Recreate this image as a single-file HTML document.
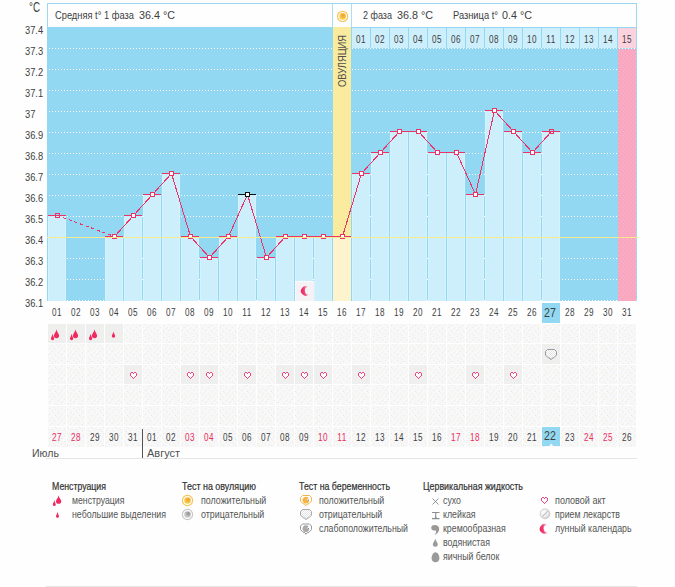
<!DOCTYPE html>
<html><head><meta charset="utf-8"><title>chart</title>
<style>
html,body{margin:0;padding:0;background:#fdfefd;}
body{width:675px;height:587px;position:relative;overflow:hidden;font-family:"Liberation Sans",sans-serif;}
svg.base{position:absolute;left:0;top:0;}
.t{position:absolute;white-space:nowrap;line-height:1;}
.c{width:40px;text-align:center;}
.r{width:40px;text-align:right;}
</style></head><body>
<svg class="base" width="675" height="587" viewBox="0 0 675 587">
<defs><pattern id="pPink" width="4" height="4" patternUnits="userSpaceOnUse"><rect width="4" height="4" fill="#f9a7c0"/><rect x="1" y="1" width="1" height="1" fill="#fab5c9"/><rect x="3" y="3" width="1" height="1" fill="#fab5c9"/></pattern><pattern id="pYel" width="4" height="4" patternUnits="userSpaceOnUse"><rect width="4" height="4" fill="#f9eb9b"/><rect x="1" y="1" width="1" height="1" fill="#faefae"/><rect x="3" y="3" width="1" height="1" fill="#faefae"/></pattern><pattern id="pCell" width="12" height="12" patternUnits="userSpaceOnUse"><rect width="12" height="12" fill="#f8f8f9"/><rect x="1" y="0" width="1" height="1" fill="#e8e8ec"/><rect x="7" y="1" width="1" height="1" fill="#e8e8ec"/><rect x="4" y="3" width="1" height="1" fill="#e8e8ec"/><rect x="10" y="4" width="1" height="1" fill="#e8e8ec"/><rect x="1" y="6" width="1" height="1" fill="#e8e8ec"/><rect x="7" y="7" width="1" height="1" fill="#e8e8ec"/><rect x="4" y="9" width="1" height="1" fill="#e8e8ec"/><rect x="10" y="10" width="1" height="1" fill="#e8e8ec"/><rect x="5" y="1" width="1" height="1" fill="#f6f1d6"/><rect x="11" y="3" width="1" height="1" fill="#f6f1d6"/><rect x="2" y="5" width="1" height="1" fill="#f6f1d6"/><rect x="8" y="8" width="1" height="1" fill="#f6f1d6"/><rect x="5" y="11" width="1" height="1" fill="#f6f1d6"/><rect x="3" y="2" width="1" height="1" fill="#ebf4f8"/><rect x="9" y="6" width="1" height="1" fill="#ebf4f8"/><rect x="0" y="9" width="1" height="1" fill="#ebf4f8"/><rect x="6" y="11" width="1" height="1" fill="#ebf4f8"/><rect x="6" y="5" width="1" height="1" fill="#f6edf0"/><rect x="11" y="8" width="1" height="1" fill="#f6edf0"/><rect x="9" y="1" width="1" height="1" fill="#f6edf0"/><rect x="2" y="10" width="1" height="1" fill="#f6edf0"/></pattern><pattern id="pCellF" width="6" height="6" patternUnits="userSpaceOnUse"><rect width="6" height="6" fill="#efeff0"/><rect x="1" y="2" width="1" height="1" fill="#f4eccc"/><rect x="4" y="5" width="1" height="1" fill="#e8f0f4"/></pattern><radialGradient id="gSun" cx="0.62" cy="0.35" r="0.75"><stop offset="0" stop-color="#ee9f2c"/><stop offset="0.55" stop-color="#f6bf44"/><stop offset="1" stop-color="#fcd957"/></radialGradient><radialGradient id="gGray" cx="0.62" cy="0.35" r="0.75"><stop offset="0" stop-color="#8f8f8f"/><stop offset="0.55" stop-color="#bdbdbd"/><stop offset="1" stop-color="#d6d6d6"/></radialGradient><linearGradient id="gMoon" x1="0" y1="0.6" x2="1" y2="0.4"><stop offset="0" stop-color="#ee1d58"/><stop offset="0.45" stop-color="#f2467a"/><stop offset="1" stop-color="#fde0e8"/></linearGradient><radialGradient id="gPill" cx="0.35" cy="0.35" r="0.8"><stop offset="0" stop-color="#ffffff"/><stop offset="0.6" stop-color="#e9e9e9"/><stop offset="1" stop-color="#bdbdbd"/></radialGradient><pattern id="pCheck" width="2" height="2" patternUnits="userSpaceOnUse"><rect width="2" height="2" fill="#ffffff"/><rect width="1" height="1" fill="#e4e4e4"/><rect x="1" y="1" width="1" height="1" fill="#e4e4e4"/></pattern><radialGradient id="gPreg" cx="0.4" cy="0.4" r="0.7"><stop offset="0" stop-color="#f5b547"/><stop offset="1" stop-color="#f3c76a"/></radialGradient><g id="heart"><path d="M1 1h1v1h-1zM2 1h1v1h-1zM4 1h1v1h-1zM5 1h1v1h-1zM1 2h1v1h-1zM2 2h1v1h-1zM3 2h1v1h-1zM4 2h1v1h-1zM5 2h1v1h-1zM1 3h1v1h-1zM2 3h1v1h-1zM3 3h1v1h-1zM4 3h1v1h-1zM5 3h1v1h-1zM2 4h1v1h-1zM3 4h1v1h-1zM4 4h1v1h-1zM3 5h1v1h-1z" fill="#ffffff"/><path d="M1 0h1v1h-1zM2 0h1v1h-1zM4 0h1v1h-1zM5 0h1v1h-1zM0 1h1v1h-1zM3 1h1v1h-1zM6 1h1v1h-1zM0 2h1v1h-1zM6 2h1v1h-1zM0 3h1v1h-1zM6 3h1v1h-1zM1 4h1v1h-1zM5 4h1v1h-1zM2 5h1v1h-1zM4 5h1v1h-1zM3 6h1v1h-1z" fill="#f0457d"/></g></defs>
<rect x="47" y="3" width="590" height="24" fill="#fdfefd" />
<rect x="47" y="3" width="590" height="1" fill="#9cd9f1" />
<rect x="47" y="3" width="1" height="24" fill="#9cd9f1" />
<rect x="636" y="3" width="1" height="298" fill="#9cd9f1" />
<rect x="332" y="4" width="1" height="23" fill="#a9def3" />
<rect x="351" y="4" width="1" height="23" fill="#a9def3" />
<rect x="47" y="27" width="589" height="274" fill="#93d8f2" />
<rect x="352" y="28" width="18" height="20" fill="#cdeefb" />
<rect x="371" y="28" width="18" height="20" fill="#cdeefb" />
<rect x="390" y="28" width="18" height="20" fill="#cdeefb" />
<rect x="409" y="28" width="18" height="20" fill="#cdeefb" />
<rect x="428" y="28" width="18" height="20" fill="#cdeefb" />
<rect x="447" y="28" width="18" height="20" fill="#cdeefb" />
<rect x="466" y="28" width="18" height="20" fill="#cdeefb" />
<rect x="485" y="28" width="18" height="20" fill="#cdeefb" />
<rect x="504" y="28" width="18" height="20" fill="#cdeefb" />
<rect x="523" y="28" width="18" height="20" fill="#cdeefb" />
<rect x="542" y="28" width="18" height="20" fill="#cdeefb" />
<rect x="561" y="28" width="18" height="20" fill="#cdeefb" />
<rect x="580" y="28" width="18" height="20" fill="#cdeefb" />
<rect x="599" y="28" width="18" height="20" fill="#cdeefb" />
<rect x="618" y="28" width="18" height="20" fill="#fcd2de" />
<rect x="618" y="49" width="18" height="252" fill="url(#pPink)" />
<rect x="333" y="27" width="18" height="274" fill="url(#pYel)" />
<line x1="49" y1="48.5" x2="636" y2="48.5" stroke="#ffffff" stroke-width="1" stroke-dasharray="1 2" shape-rendering="crispEdges"/>
<line x1="49" y1="69.5" x2="636" y2="69.5" stroke="#ffffff" stroke-width="1" stroke-dasharray="1 2" shape-rendering="crispEdges"/>
<line x1="49" y1="90.5" x2="636" y2="90.5" stroke="#ffffff" stroke-width="1" stroke-dasharray="1 2" shape-rendering="crispEdges"/>
<line x1="49" y1="111.5" x2="636" y2="111.5" stroke="#ffffff" stroke-width="1" stroke-dasharray="1 2" shape-rendering="crispEdges"/>
<line x1="49" y1="132.5" x2="636" y2="132.5" stroke="#ffffff" stroke-width="1" stroke-dasharray="1 2" shape-rendering="crispEdges"/>
<line x1="49" y1="153.5" x2="636" y2="153.5" stroke="#ffffff" stroke-width="1" stroke-dasharray="1 2" shape-rendering="crispEdges"/>
<line x1="49" y1="174.5" x2="636" y2="174.5" stroke="#ffffff" stroke-width="1" stroke-dasharray="1 2" shape-rendering="crispEdges"/>
<line x1="49" y1="195.5" x2="636" y2="195.5" stroke="#ffffff" stroke-width="1" stroke-dasharray="1 2" shape-rendering="crispEdges"/>
<line x1="49" y1="216.5" x2="636" y2="216.5" stroke="#ffffff" stroke-width="1" stroke-dasharray="1 2" shape-rendering="crispEdges"/>
<line x1="49" y1="237.5" x2="636" y2="237.5" stroke="#ffffff" stroke-width="1" stroke-dasharray="1 2" shape-rendering="crispEdges"/>
<line x1="49" y1="258.5" x2="636" y2="258.5" stroke="#ffffff" stroke-width="1" stroke-dasharray="1 2" shape-rendering="crispEdges"/>
<line x1="49" y1="279.5" x2="636" y2="279.5" stroke="#ffffff" stroke-width="1" stroke-dasharray="1 2" shape-rendering="crispEdges"/>
<line x1="49" y1="300.5" x2="636" y2="300.5" stroke="#ffffff" stroke-width="1" stroke-dasharray="1 2" shape-rendering="crispEdges"/>
<rect x="333" y="27" width="18" height="274" fill="url(#pYel)" />
<rect x="618" y="49" width="18" height="252" fill="url(#pPink)" />
<rect x="48" y="215" width="18" height="86" fill="#cdeefb" />
<rect x="48" y="216" width="1" height="85" fill="#d5f2fd" />
<rect x="65" y="216" width="1" height="85" fill="#d5f2fd" />
<rect x="105" y="236" width="18" height="65" fill="#cdeefb" />
<rect x="105" y="237" width="1" height="64" fill="#d5f2fd" />
<rect x="122" y="237" width="1" height="64" fill="#d5f2fd" />
<rect x="124" y="215" width="18" height="86" fill="#cdeefb" />
<rect x="124" y="216" width="1" height="85" fill="#d5f2fd" />
<rect x="141" y="216" width="1" height="85" fill="#d5f2fd" />
<rect x="143" y="194" width="18" height="107" fill="#cdeefb" />
<rect x="143" y="195" width="1" height="106" fill="#d5f2fd" />
<rect x="160" y="195" width="1" height="106" fill="#d5f2fd" />
<rect x="162" y="173" width="18" height="128" fill="#cdeefb" />
<rect x="162" y="174" width="1" height="127" fill="#d5f2fd" />
<rect x="179" y="174" width="1" height="127" fill="#d5f2fd" />
<rect x="181" y="236" width="18" height="65" fill="#cdeefb" />
<rect x="181" y="237" width="1" height="64" fill="#d5f2fd" />
<rect x="198" y="237" width="1" height="64" fill="#d5f2fd" />
<rect x="200" y="257" width="18" height="44" fill="#cdeefb" />
<rect x="200" y="258" width="1" height="43" fill="#d5f2fd" />
<rect x="217" y="258" width="1" height="43" fill="#d5f2fd" />
<rect x="219" y="236" width="18" height="65" fill="#cdeefb" />
<rect x="219" y="237" width="1" height="64" fill="#d5f2fd" />
<rect x="236" y="237" width="1" height="64" fill="#d5f2fd" />
<rect x="238" y="194" width="18" height="107" fill="#cdeefb" />
<rect x="238" y="195" width="1" height="106" fill="#d5f2fd" />
<rect x="255" y="195" width="1" height="106" fill="#d5f2fd" />
<rect x="257" y="257" width="18" height="44" fill="#cdeefb" />
<rect x="257" y="258" width="1" height="43" fill="#d5f2fd" />
<rect x="274" y="258" width="1" height="43" fill="#d5f2fd" />
<rect x="276" y="236" width="18" height="65" fill="#cdeefb" />
<rect x="276" y="237" width="1" height="64" fill="#d5f2fd" />
<rect x="293" y="237" width="1" height="64" fill="#d5f2fd" />
<rect x="295" y="236" width="18" height="65" fill="#cdeefb" />
<rect x="295" y="237" width="1" height="64" fill="#d5f2fd" />
<rect x="312" y="237" width="1" height="64" fill="#d5f2fd" />
<rect x="314" y="236" width="18" height="65" fill="#cdeefb" />
<rect x="314" y="237" width="1" height="64" fill="#d5f2fd" />
<rect x="331" y="237" width="1" height="64" fill="#d5f2fd" />
<rect x="333" y="236" width="18" height="65" fill="#fdf4cd" />
<rect x="352" y="173" width="18" height="128" fill="#cdeefb" />
<rect x="352" y="174" width="1" height="127" fill="#d5f2fd" />
<rect x="369" y="174" width="1" height="127" fill="#d5f2fd" />
<rect x="371" y="152" width="18" height="149" fill="#cdeefb" />
<rect x="371" y="153" width="1" height="148" fill="#d5f2fd" />
<rect x="388" y="153" width="1" height="148" fill="#d5f2fd" />
<rect x="390" y="131" width="18" height="170" fill="#cdeefb" />
<rect x="390" y="132" width="1" height="169" fill="#d5f2fd" />
<rect x="407" y="132" width="1" height="169" fill="#d5f2fd" />
<rect x="409" y="131" width="18" height="170" fill="#cdeefb" />
<rect x="409" y="132" width="1" height="169" fill="#d5f2fd" />
<rect x="426" y="132" width="1" height="169" fill="#d5f2fd" />
<rect x="428" y="152" width="18" height="149" fill="#cdeefb" />
<rect x="428" y="153" width="1" height="148" fill="#d5f2fd" />
<rect x="445" y="153" width="1" height="148" fill="#d5f2fd" />
<rect x="447" y="152" width="18" height="149" fill="#cdeefb" />
<rect x="447" y="153" width="1" height="148" fill="#d5f2fd" />
<rect x="464" y="153" width="1" height="148" fill="#d5f2fd" />
<rect x="466" y="194" width="18" height="107" fill="#cdeefb" />
<rect x="466" y="195" width="1" height="106" fill="#d5f2fd" />
<rect x="483" y="195" width="1" height="106" fill="#d5f2fd" />
<rect x="485" y="110" width="18" height="191" fill="#cdeefb" />
<rect x="485" y="111" width="1" height="190" fill="#d5f2fd" />
<rect x="502" y="111" width="1" height="190" fill="#d5f2fd" />
<rect x="504" y="131" width="18" height="170" fill="#cdeefb" />
<rect x="504" y="132" width="1" height="169" fill="#d5f2fd" />
<rect x="521" y="132" width="1" height="169" fill="#d5f2fd" />
<rect x="523" y="152" width="18" height="149" fill="#cdeefb" />
<rect x="523" y="153" width="1" height="148" fill="#d5f2fd" />
<rect x="540" y="153" width="1" height="148" fill="#d5f2fd" />
<rect x="542" y="131" width="18" height="170" fill="#cdeefb" />
<rect x="542" y="132" width="1" height="169" fill="#d5f2fd" />
<rect x="559" y="132" width="1" height="169" fill="#d5f2fd" />
<rect x="47" y="237" width="589" height="1" fill="#f6ec8e" />
<rect x="295" y="281" width="19" height="20" fill="#f4f2f5" />
<line x1="295" y1="281.5" x2="314" y2="281.5" stroke="#ffffff" stroke-width="1" stroke-dasharray="2 1" shape-rendering="crispEdges"/>
<line x1="295.5" y1="281" x2="295.5" y2="301" stroke="#ffffff" stroke-width="1" stroke-dasharray="2 1" shape-rendering="crispEdges"/>
<line x1="57.5" y1="215.5" x2="114.5" y2="236.5" stroke="#ea3366" stroke-width="1" shape-rendering="crispEdges" stroke-dasharray="3 3"/>
<line x1="114.5" y1="236.5" x2="133.5" y2="215.5" stroke="#ea3366" stroke-width="1" shape-rendering="crispEdges"/>
<line x1="133.5" y1="215.5" x2="152.5" y2="194.5" stroke="#ea3366" stroke-width="1" shape-rendering="crispEdges"/>
<line x1="152.5" y1="194.5" x2="171.5" y2="173.5" stroke="#ea3366" stroke-width="1" shape-rendering="crispEdges"/>
<line x1="171.5" y1="173.5" x2="190.5" y2="236.5" stroke="#ea3366" stroke-width="1" shape-rendering="crispEdges"/>
<line x1="190.5" y1="236.5" x2="209.5" y2="257.5" stroke="#ea3366" stroke-width="1" shape-rendering="crispEdges"/>
<line x1="209.5" y1="257.5" x2="228.5" y2="236.5" stroke="#ea3366" stroke-width="1" shape-rendering="crispEdges"/>
<line x1="228.5" y1="236.5" x2="247.5" y2="194.5" stroke="#ea3366" stroke-width="1" shape-rendering="crispEdges"/>
<line x1="247.5" y1="194.5" x2="266.5" y2="257.5" stroke="#ea3366" stroke-width="1" shape-rendering="crispEdges"/>
<line x1="266.5" y1="257.5" x2="285.5" y2="236.5" stroke="#ea3366" stroke-width="1" shape-rendering="crispEdges"/>
<line x1="285.5" y1="236.5" x2="304.5" y2="236.5" stroke="#ea3366" stroke-width="1" shape-rendering="crispEdges"/>
<line x1="304.5" y1="236.5" x2="323.5" y2="236.5" stroke="#ea3366" stroke-width="1" shape-rendering="crispEdges"/>
<line x1="323.5" y1="236.5" x2="342.5" y2="236.5" stroke="#ea3366" stroke-width="1" shape-rendering="crispEdges"/>
<line x1="342.5" y1="236.5" x2="361.5" y2="173.5" stroke="#ea3366" stroke-width="1" shape-rendering="crispEdges"/>
<line x1="361.5" y1="173.5" x2="380.5" y2="152.5" stroke="#ea3366" stroke-width="1" shape-rendering="crispEdges"/>
<line x1="380.5" y1="152.5" x2="399.5" y2="131.5" stroke="#ea3366" stroke-width="1" shape-rendering="crispEdges"/>
<line x1="399.5" y1="131.5" x2="418.5" y2="131.5" stroke="#ea3366" stroke-width="1" shape-rendering="crispEdges"/>
<line x1="418.5" y1="131.5" x2="437.5" y2="152.5" stroke="#ea3366" stroke-width="1" shape-rendering="crispEdges"/>
<line x1="437.5" y1="152.5" x2="456.5" y2="152.5" stroke="#ea3366" stroke-width="1" shape-rendering="crispEdges"/>
<line x1="456.5" y1="152.5" x2="475.5" y2="194.5" stroke="#ea3366" stroke-width="1" shape-rendering="crispEdges"/>
<line x1="475.5" y1="194.5" x2="494.5" y2="110.5" stroke="#ea3366" stroke-width="1" shape-rendering="crispEdges"/>
<line x1="494.5" y1="110.5" x2="513.5" y2="131.5" stroke="#ea3366" stroke-width="1" shape-rendering="crispEdges"/>
<line x1="513.5" y1="131.5" x2="532.5" y2="152.5" stroke="#ea3366" stroke-width="1" shape-rendering="crispEdges"/>
<line x1="532.5" y1="152.5" x2="551.5" y2="131.5" stroke="#ea3366" stroke-width="1" shape-rendering="crispEdges"/>
<rect x="48" y="215" width="18" height="1" fill="#ea3366" />
<rect x="105" y="236" width="18" height="1" fill="#ea3366" />
<rect x="124" y="215" width="18" height="1" fill="#ea3366" />
<rect x="143" y="194" width="18" height="1" fill="#ea3366" />
<rect x="162" y="173" width="18" height="1" fill="#ea3366" />
<rect x="181" y="236" width="18" height="1" fill="#ea3366" />
<rect x="200" y="257" width="18" height="1" fill="#ea3366" />
<rect x="219" y="236" width="18" height="1" fill="#ea3366" />
<rect x="238" y="194" width="18" height="1" fill="#111111" />
<rect x="257" y="257" width="18" height="1" fill="#ea3366" />
<rect x="276" y="236" width="18" height="1" fill="#ea3366" />
<rect x="295" y="236" width="18" height="1" fill="#ea3366" />
<rect x="314" y="236" width="18" height="1" fill="#ea3366" />
<rect x="333" y="236" width="18" height="1" fill="#ea3366" />
<rect x="352" y="173" width="18" height="1" fill="#ea3366" />
<rect x="371" y="152" width="18" height="1" fill="#ea3366" />
<rect x="390" y="131" width="18" height="1" fill="#ea3366" />
<rect x="409" y="131" width="18" height="1" fill="#ea3366" />
<rect x="428" y="152" width="18" height="1" fill="#ea3366" />
<rect x="447" y="152" width="18" height="1" fill="#ea3366" />
<rect x="466" y="194" width="18" height="1" fill="#ea3366" />
<rect x="485" y="110" width="18" height="1" fill="#ea3366" />
<rect x="504" y="131" width="18" height="1" fill="#ea3366" />
<rect x="523" y="152" width="18" height="1" fill="#ea3366" />
<rect x="542" y="131" width="18" height="1" fill="#ea3366" />
<rect x="55.5" y="213.5" width="4" height="4" fill="none" stroke="#ea3366" stroke-width="1"/>
<rect x="112.5" y="234.5" width="4" height="4" fill="#ffffff" stroke="#ea3366" stroke-width="1"/>
<rect x="131.5" y="213.5" width="4" height="4" fill="#ffffff" stroke="#ea3366" stroke-width="1"/>
<rect x="150.5" y="192.5" width="4" height="4" fill="#ffffff" stroke="#ea3366" stroke-width="1"/>
<rect x="169.5" y="171.5" width="4" height="4" fill="#ffffff" stroke="#ea3366" stroke-width="1"/>
<rect x="188.5" y="234.5" width="4" height="4" fill="#ffffff" stroke="#ea3366" stroke-width="1"/>
<rect x="207.5" y="255.5" width="4" height="4" fill="#ffffff" stroke="#ea3366" stroke-width="1"/>
<rect x="226.5" y="234.5" width="4" height="4" fill="#ffffff" stroke="#ea3366" stroke-width="1"/>
<rect x="245.5" y="192.5" width="4" height="4" fill="#ffffff" stroke="#111111" stroke-width="1"/>
<rect x="264.5" y="255.5" width="4" height="4" fill="#ffffff" stroke="#ea3366" stroke-width="1"/>
<rect x="283.5" y="234.5" width="4" height="4" fill="#ffffff" stroke="#ea3366" stroke-width="1"/>
<rect x="302.5" y="234.5" width="4" height="4" fill="#ffffff" stroke="#ea3366" stroke-width="1"/>
<rect x="321.5" y="234.5" width="4" height="4" fill="#ffffff" stroke="#ea3366" stroke-width="1"/>
<rect x="340.5" y="234.5" width="4" height="4" fill="#ffffff" stroke="#ea3366" stroke-width="1"/>
<rect x="359.5" y="171.5" width="4" height="4" fill="#ffffff" stroke="#ea3366" stroke-width="1"/>
<rect x="378.5" y="150.5" width="4" height="4" fill="#ffffff" stroke="#ea3366" stroke-width="1"/>
<rect x="397.5" y="129.5" width="4" height="4" fill="#ffffff" stroke="#ea3366" stroke-width="1"/>
<rect x="416.5" y="129.5" width="4" height="4" fill="#ffffff" stroke="#ea3366" stroke-width="1"/>
<rect x="435.5" y="150.5" width="4" height="4" fill="#ffffff" stroke="#ea3366" stroke-width="1"/>
<rect x="454.5" y="150.5" width="4" height="4" fill="#ffffff" stroke="#ea3366" stroke-width="1"/>
<rect x="473.5" y="192.5" width="4" height="4" fill="#ffffff" stroke="#ea3366" stroke-width="1"/>
<rect x="492.5" y="108.5" width="4" height="4" fill="#ffffff" stroke="#ea3366" stroke-width="1"/>
<rect x="511.5" y="129.5" width="4" height="4" fill="#ffffff" stroke="#ea3366" stroke-width="1"/>
<rect x="530.5" y="150.5" width="4" height="4" fill="#ffffff" stroke="#ea3366" stroke-width="1"/>
<rect x="549.5" y="129.5" width="4" height="4" fill="none" stroke="#ea3366" stroke-width="1"/>
<rect x="47" y="237" width="591" height="1" fill="#f6ec8e" />
<rect x="48" y="324" width="18" height="19" fill="url(#pCellF)" />
<rect x="67" y="324" width="18" height="19" fill="url(#pCellF)" />
<rect x="86" y="324" width="18" height="19" fill="url(#pCellF)" />
<rect x="105" y="324" width="18" height="19" fill="url(#pCellF)" />
<rect x="124" y="324" width="18" height="19" fill="url(#pCell)" />
<rect x="143" y="324" width="18" height="19" fill="url(#pCell)" />
<rect x="162" y="324" width="18" height="19" fill="url(#pCell)" />
<rect x="181" y="324" width="18" height="19" fill="url(#pCell)" />
<rect x="200" y="324" width="18" height="19" fill="url(#pCell)" />
<rect x="219" y="324" width="18" height="19" fill="url(#pCell)" />
<rect x="238" y="324" width="18" height="19" fill="url(#pCell)" />
<rect x="257" y="324" width="18" height="19" fill="url(#pCell)" />
<rect x="276" y="324" width="18" height="19" fill="url(#pCell)" />
<rect x="295" y="324" width="18" height="19" fill="url(#pCell)" />
<rect x="314" y="324" width="18" height="19" fill="url(#pCell)" />
<rect x="333" y="324" width="18" height="19" fill="url(#pCell)" />
<rect x="352" y="324" width="18" height="19" fill="url(#pCell)" />
<rect x="371" y="324" width="18" height="19" fill="url(#pCell)" />
<rect x="390" y="324" width="18" height="19" fill="url(#pCell)" />
<rect x="409" y="324" width="18" height="19" fill="url(#pCell)" />
<rect x="428" y="324" width="18" height="19" fill="url(#pCell)" />
<rect x="447" y="324" width="18" height="19" fill="url(#pCell)" />
<rect x="466" y="324" width="18" height="19" fill="url(#pCell)" />
<rect x="485" y="324" width="18" height="19" fill="url(#pCell)" />
<rect x="504" y="324" width="18" height="19" fill="url(#pCell)" />
<rect x="523" y="324" width="18" height="19" fill="url(#pCell)" />
<rect x="542" y="324" width="18" height="19" fill="url(#pCell)" />
<rect x="561" y="324" width="18" height="19" fill="url(#pCell)" />
<rect x="580" y="324" width="18" height="19" fill="url(#pCell)" />
<rect x="599" y="324" width="18" height="19" fill="url(#pCell)" />
<rect x="618" y="324" width="18" height="19" fill="url(#pCell)" />
<rect x="48" y="344" width="18" height="20" fill="url(#pCell)" />
<rect x="67" y="344" width="18" height="20" fill="url(#pCell)" />
<rect x="86" y="344" width="18" height="20" fill="url(#pCell)" />
<rect x="105" y="344" width="18" height="20" fill="url(#pCell)" />
<rect x="124" y="344" width="18" height="20" fill="url(#pCell)" />
<rect x="143" y="344" width="18" height="20" fill="url(#pCell)" />
<rect x="162" y="344" width="18" height="20" fill="url(#pCell)" />
<rect x="181" y="344" width="18" height="20" fill="url(#pCell)" />
<rect x="200" y="344" width="18" height="20" fill="url(#pCell)" />
<rect x="219" y="344" width="18" height="20" fill="url(#pCell)" />
<rect x="238" y="344" width="18" height="20" fill="url(#pCell)" />
<rect x="257" y="344" width="18" height="20" fill="url(#pCell)" />
<rect x="276" y="344" width="18" height="20" fill="url(#pCell)" />
<rect x="295" y="344" width="18" height="20" fill="url(#pCell)" />
<rect x="314" y="344" width="18" height="20" fill="url(#pCell)" />
<rect x="333" y="344" width="18" height="20" fill="url(#pCell)" />
<rect x="352" y="344" width="18" height="20" fill="url(#pCell)" />
<rect x="371" y="344" width="18" height="20" fill="url(#pCell)" />
<rect x="390" y="344" width="18" height="20" fill="url(#pCell)" />
<rect x="409" y="344" width="18" height="20" fill="url(#pCell)" />
<rect x="428" y="344" width="18" height="20" fill="url(#pCell)" />
<rect x="447" y="344" width="18" height="20" fill="url(#pCell)" />
<rect x="466" y="344" width="18" height="20" fill="url(#pCell)" />
<rect x="485" y="344" width="18" height="20" fill="url(#pCell)" />
<rect x="504" y="344" width="18" height="20" fill="url(#pCell)" />
<rect x="523" y="344" width="18" height="20" fill="url(#pCell)" />
<rect x="542" y="344" width="18" height="20" fill="url(#pCellF)" />
<rect x="561" y="344" width="18" height="20" fill="url(#pCell)" />
<rect x="580" y="344" width="18" height="20" fill="url(#pCell)" />
<rect x="599" y="344" width="18" height="20" fill="url(#pCell)" />
<rect x="618" y="344" width="18" height="20" fill="url(#pCell)" />
<rect x="48" y="365" width="18" height="19" fill="url(#pCell)" />
<rect x="67" y="365" width="18" height="19" fill="url(#pCell)" />
<rect x="86" y="365" width="18" height="19" fill="url(#pCell)" />
<rect x="105" y="365" width="18" height="19" fill="url(#pCell)" />
<rect x="124" y="365" width="18" height="19" fill="url(#pCellF)" />
<rect x="143" y="365" width="18" height="19" fill="url(#pCell)" />
<rect x="162" y="365" width="18" height="19" fill="url(#pCell)" />
<rect x="181" y="365" width="18" height="19" fill="url(#pCellF)" />
<rect x="200" y="365" width="18" height="19" fill="url(#pCellF)" />
<rect x="219" y="365" width="18" height="19" fill="url(#pCell)" />
<rect x="238" y="365" width="18" height="19" fill="url(#pCellF)" />
<rect x="257" y="365" width="18" height="19" fill="url(#pCell)" />
<rect x="276" y="365" width="18" height="19" fill="url(#pCellF)" />
<rect x="295" y="365" width="18" height="19" fill="url(#pCellF)" />
<rect x="314" y="365" width="18" height="19" fill="url(#pCellF)" />
<rect x="333" y="365" width="18" height="19" fill="url(#pCell)" />
<rect x="352" y="365" width="18" height="19" fill="url(#pCellF)" />
<rect x="371" y="365" width="18" height="19" fill="url(#pCell)" />
<rect x="390" y="365" width="18" height="19" fill="url(#pCell)" />
<rect x="409" y="365" width="18" height="19" fill="url(#pCellF)" />
<rect x="428" y="365" width="18" height="19" fill="url(#pCell)" />
<rect x="447" y="365" width="18" height="19" fill="url(#pCell)" />
<rect x="466" y="365" width="18" height="19" fill="url(#pCellF)" />
<rect x="485" y="365" width="18" height="19" fill="url(#pCell)" />
<rect x="504" y="365" width="18" height="19" fill="url(#pCellF)" />
<rect x="523" y="365" width="18" height="19" fill="url(#pCell)" />
<rect x="542" y="365" width="18" height="19" fill="url(#pCell)" />
<rect x="561" y="365" width="18" height="19" fill="url(#pCell)" />
<rect x="580" y="365" width="18" height="19" fill="url(#pCell)" />
<rect x="599" y="365" width="18" height="19" fill="url(#pCell)" />
<rect x="618" y="365" width="18" height="19" fill="url(#pCell)" />
<rect x="48" y="385" width="18" height="20" fill="url(#pCell)" />
<rect x="67" y="385" width="18" height="20" fill="url(#pCell)" />
<rect x="86" y="385" width="18" height="20" fill="url(#pCell)" />
<rect x="105" y="385" width="18" height="20" fill="url(#pCell)" />
<rect x="124" y="385" width="18" height="20" fill="url(#pCell)" />
<rect x="143" y="385" width="18" height="20" fill="url(#pCell)" />
<rect x="162" y="385" width="18" height="20" fill="url(#pCell)" />
<rect x="181" y="385" width="18" height="20" fill="url(#pCell)" />
<rect x="200" y="385" width="18" height="20" fill="url(#pCell)" />
<rect x="219" y="385" width="18" height="20" fill="url(#pCell)" />
<rect x="238" y="385" width="18" height="20" fill="url(#pCell)" />
<rect x="257" y="385" width="18" height="20" fill="url(#pCell)" />
<rect x="276" y="385" width="18" height="20" fill="url(#pCell)" />
<rect x="295" y="385" width="18" height="20" fill="url(#pCell)" />
<rect x="314" y="385" width="18" height="20" fill="url(#pCell)" />
<rect x="333" y="385" width="18" height="20" fill="url(#pCell)" />
<rect x="352" y="385" width="18" height="20" fill="url(#pCell)" />
<rect x="371" y="385" width="18" height="20" fill="url(#pCell)" />
<rect x="390" y="385" width="18" height="20" fill="url(#pCell)" />
<rect x="409" y="385" width="18" height="20" fill="url(#pCell)" />
<rect x="428" y="385" width="18" height="20" fill="url(#pCell)" />
<rect x="447" y="385" width="18" height="20" fill="url(#pCell)" />
<rect x="466" y="385" width="18" height="20" fill="url(#pCell)" />
<rect x="485" y="385" width="18" height="20" fill="url(#pCell)" />
<rect x="504" y="385" width="18" height="20" fill="url(#pCell)" />
<rect x="523" y="385" width="18" height="20" fill="url(#pCell)" />
<rect x="542" y="385" width="18" height="20" fill="url(#pCell)" />
<rect x="561" y="385" width="18" height="20" fill="url(#pCell)" />
<rect x="580" y="385" width="18" height="20" fill="url(#pCell)" />
<rect x="599" y="385" width="18" height="20" fill="url(#pCell)" />
<rect x="618" y="385" width="18" height="20" fill="url(#pCell)" />
<rect x="48" y="406" width="18" height="20" fill="url(#pCell)" />
<rect x="67" y="406" width="18" height="20" fill="url(#pCell)" />
<rect x="86" y="406" width="18" height="20" fill="url(#pCell)" />
<rect x="105" y="406" width="18" height="20" fill="url(#pCell)" />
<rect x="124" y="406" width="18" height="20" fill="url(#pCell)" />
<rect x="143" y="406" width="18" height="20" fill="url(#pCell)" />
<rect x="162" y="406" width="18" height="20" fill="url(#pCell)" />
<rect x="181" y="406" width="18" height="20" fill="url(#pCell)" />
<rect x="200" y="406" width="18" height="20" fill="url(#pCell)" />
<rect x="219" y="406" width="18" height="20" fill="url(#pCell)" />
<rect x="238" y="406" width="18" height="20" fill="url(#pCell)" />
<rect x="257" y="406" width="18" height="20" fill="url(#pCell)" />
<rect x="276" y="406" width="18" height="20" fill="url(#pCell)" />
<rect x="295" y="406" width="18" height="20" fill="url(#pCell)" />
<rect x="314" y="406" width="18" height="20" fill="url(#pCell)" />
<rect x="333" y="406" width="18" height="20" fill="url(#pCell)" />
<rect x="352" y="406" width="18" height="20" fill="url(#pCell)" />
<rect x="371" y="406" width="18" height="20" fill="url(#pCell)" />
<rect x="390" y="406" width="18" height="20" fill="url(#pCell)" />
<rect x="409" y="406" width="18" height="20" fill="url(#pCell)" />
<rect x="428" y="406" width="18" height="20" fill="url(#pCell)" />
<rect x="447" y="406" width="18" height="20" fill="url(#pCell)" />
<rect x="466" y="406" width="18" height="20" fill="url(#pCell)" />
<rect x="485" y="406" width="18" height="20" fill="url(#pCell)" />
<rect x="504" y="406" width="18" height="20" fill="url(#pCell)" />
<rect x="523" y="406" width="18" height="20" fill="url(#pCell)" />
<rect x="542" y="406" width="18" height="20" fill="url(#pCell)" />
<rect x="561" y="406" width="18" height="20" fill="url(#pCell)" />
<rect x="580" y="406" width="18" height="20" fill="url(#pCell)" />
<rect x="599" y="406" width="18" height="20" fill="url(#pCell)" />
<rect x="618" y="406" width="18" height="20" fill="url(#pCell)" />
<rect x="48" y="427" width="18" height="20" fill="url(#pCell)" />
<rect x="67" y="427" width="18" height="20" fill="url(#pCell)" />
<rect x="86" y="427" width="18" height="20" fill="url(#pCell)" />
<rect x="105" y="427" width="18" height="20" fill="url(#pCell)" />
<rect x="124" y="427" width="18" height="20" fill="url(#pCell)" />
<rect x="143" y="427" width="18" height="20" fill="url(#pCell)" />
<rect x="162" y="427" width="18" height="20" fill="url(#pCell)" />
<rect x="181" y="427" width="18" height="20" fill="url(#pCell)" />
<rect x="200" y="427" width="18" height="20" fill="url(#pCell)" />
<rect x="219" y="427" width="18" height="20" fill="url(#pCell)" />
<rect x="238" y="427" width="18" height="20" fill="url(#pCell)" />
<rect x="257" y="427" width="18" height="20" fill="url(#pCell)" />
<rect x="276" y="427" width="18" height="20" fill="url(#pCell)" />
<rect x="295" y="427" width="18" height="20" fill="url(#pCell)" />
<rect x="314" y="427" width="18" height="20" fill="url(#pCell)" />
<rect x="333" y="427" width="18" height="20" fill="url(#pCell)" />
<rect x="352" y="427" width="18" height="20" fill="url(#pCell)" />
<rect x="371" y="427" width="18" height="20" fill="url(#pCell)" />
<rect x="390" y="427" width="18" height="20" fill="url(#pCell)" />
<rect x="409" y="427" width="18" height="20" fill="url(#pCell)" />
<rect x="428" y="427" width="18" height="20" fill="url(#pCell)" />
<rect x="447" y="427" width="18" height="20" fill="url(#pCell)" />
<rect x="466" y="427" width="18" height="20" fill="url(#pCell)" />
<rect x="485" y="427" width="18" height="20" fill="url(#pCell)" />
<rect x="504" y="427" width="18" height="20" fill="url(#pCell)" />
<rect x="523" y="427" width="18" height="20" fill="url(#pCell)" />
<rect x="542" y="427" width="18" height="20" fill="url(#pCell)" />
<rect x="561" y="427" width="18" height="20" fill="url(#pCell)" />
<rect x="580" y="427" width="18" height="20" fill="url(#pCell)" />
<rect x="599" y="427" width="18" height="20" fill="url(#pCell)" />
<rect x="618" y="427" width="18" height="20" fill="url(#pCell)" />
<rect x="542" y="303" width="18" height="20" fill="#93d8f2" />
<rect x="542" y="427" width="18" height="19" fill="#93d8f2" />
<path d="M549.4 446 L551.3 443.4 L553.2 446Z" fill="#fdfefd"/>
<rect x="142" y="429" width="1" height="29" fill="#555555" />
<rect x="46" y="458" width="591" height="1" fill="#e6e6e6" />
<rect x="46" y="586" width="591" height="1" fill="#e6e6e6" />
<circle cx="342.6" cy="16.4" r="5.1" fill="#ffffff" stroke="#f8c55a" stroke-width="1.2"/>
<circle cx="342.6" cy="16.4" r="3.3" fill="url(#gSun)"/>
<path d="M308.30 286.80 A4.8 4.8 0 1 0 308.90 294.57 A3.9 3.9 0 0 1 308.30 286.80Z" fill="url(#gMoon)"/>
<path d="M56.5 329.6 C57.15 332.61 59.1 334.17 59.1 335.6 A2.6 2.6 0 0 1 53.9 335.6 C53.9 334.17 55.85 332.61 56.5 329.6Z" fill="#f02a60"/>
<path d="M52.6 333.8 C53.0125 336.04 54.25 337.6425 54.25 338.55 A1.65 1.65 0 0 1 50.95 338.55 C50.95 337.6425 52.1875 336.04 52.6 333.8Z" fill="#f02a60"/>
<path d="M75.5 329.6 C76.15 332.61 78.1 334.17 78.1 335.6 A2.6 2.6 0 0 1 72.9 335.6 C72.9 334.17 74.85 332.61 75.5 329.6Z" fill="#f02a60"/>
<path d="M71.6 333.8 C72.01249999999999 336.04 73.25 337.6425 73.25 338.55 A1.65 1.65 0 0 1 69.94999999999999 338.55 C69.94999999999999 337.6425 71.1875 336.04 71.6 333.8Z" fill="#f02a60"/>
<path d="M94.5 329.6 C95.15 332.61 97.1 334.17 97.1 335.6 A2.6 2.6 0 0 1 91.9 335.6 C91.9 334.17 93.85 332.61 94.5 329.6Z" fill="#f02a60"/>
<path d="M90.6 333.8 C91.01249999999999 336.04 92.25 337.6425 92.25 338.55 A1.65 1.65 0 0 1 88.94999999999999 338.55 C88.94999999999999 337.6425 90.1875 336.04 90.6 333.8Z" fill="#f02a60"/>
<path d="M113.5 331.6 C113.925 333.77000000000004 115.2 335.165 115.2 336.1 A1.7 1.7 0 0 1 111.8 336.1 C111.8 335.165 113.075 333.77000000000004 113.5 331.6Z" fill="#f02a60"/>
<use href="#heart" x="130" y="372"/>
<use href="#heart" x="187" y="372"/>
<use href="#heart" x="206" y="372"/>
<use href="#heart" x="244" y="372"/>
<use href="#heart" x="282" y="372"/>
<use href="#heart" x="301" y="372"/>
<use href="#heart" x="320" y="372"/>
<use href="#heart" x="358" y="372"/>
<use href="#heart" x="415" y="372"/>
<use href="#heart" x="472" y="372"/>
<use href="#heart" x="510" y="372"/>
<path d="M547.50 349.50 L554.50 349.50 L556.50 351.50 L556.50 355.00 L554.00 357.70 L552.00 358.30 L550.90 359.80 L550.10 358.30 L548.00 357.70 L545.50 355.00 L545.50 351.50Z" fill="url(#pCheck)" stroke="#9a9a9a" stroke-width="1" stroke-linejoin="round"/>
<path d="M58.6 495.6 C59.25 498.47 61.2 499.77 61.2 501.2 A2.6 2.6 0 0 1 56.0 501.2 C56.0 499.77 57.95 498.47 58.6 495.6Z" fill="#f02a60"/>
<path d="M54.3 500.0 C54.675 502.1 55.8 503.675 55.8 504.5 A1.5 1.5 0 0 1 52.8 504.5 C52.8 503.675 53.925 502.1 54.3 500.0Z" fill="#f02a60"/>
<path d="M57.5 511.8 C57.875 513.9 59.0 515.4749999999999 59.0 516.3 A1.5 1.5 0 0 1 56.0 516.3 C56.0 515.4749999999999 57.125 513.9 57.5 511.8Z" fill="#f02a60"/>
<circle cx="187.5" cy="500.5" r="5.1" fill="#ffffff" stroke="#f8c55a" stroke-width="1.2"/>
<circle cx="187.5" cy="500.5" r="3.3" fill="url(#gSun)"/>
<circle cx="187.5" cy="514.5" r="5.1" fill="#ffffff" stroke="#c9c9c9" stroke-width="1.2"/>
<circle cx="187.5" cy="514.5" r="3.3" fill="url(#gGray)"/>
<path d="M302.50 495.50 L309.50 495.50 L311.50 497.50 L311.50 501.00 L309.00 503.70 L307.00 504.30 L305.90 505.80 L305.10 504.30 L303.00 503.70 L300.50 501.00 L300.50 497.50Z" fill="#ffffff" stroke="#f4b54d" stroke-width="1" stroke-linejoin="round"/>
<path d="M308.6 498.1 A3.4 3.4 0 1 0 309.2 500.9 L306.6 499.9Z" fill="#f3b546"/>
<circle cx="308.3" cy="500.1" r="0.7" fill="#666"/>
<path d="M302.50 509.50 L309.50 509.50 L311.50 511.50 L311.50 515.00 L309.00 517.70 L307.00 518.30 L305.90 519.80 L305.10 518.30 L303.00 517.70 L300.50 515.00 L300.50 511.50Z" fill="url(#pCheck)" stroke="#a8a8a8" stroke-width="1" stroke-linejoin="round"/>
<path d="M302.50 524.00 L309.50 524.00 L311.50 526.00 L311.50 529.50 L309.00 532.20 L307.00 532.80 L305.90 534.30 L305.10 532.80 L303.00 532.20 L300.50 529.50 L300.50 526.00Z" fill="#ffffff" stroke="#9a9a9a" stroke-width="1" stroke-linejoin="round"/>
<path d="M308.6 526.6 A3.4 3.4 0 1 0 309.2 529.4 L306.6 528.4Z" fill="#a8a8a8"/>
<circle cx="308.3" cy="528.6" r="0.7" fill="#666"/>
<path d="M432.5 498.5 L438.5 504.5 M438.5 498.5 L432.5 504.5" stroke="#8a8a8a" stroke-width="0.9" fill="none"/>
<path d="M432 512 H439.5 V513 H436.4 C436.2 515 436.1 516.5 436.8 518 H439.5 V519.2 H432 V518 H434.7 C435.4 516.5 435.3 515 435.1 513 H432Z" fill="#8e8e8e"/>
<path d="M431.2 527.6 C431.2 525.8 433 525 435 525 C437.5 525 439.3 526.8 439.2 529.3 C439 532 437 534 434.6 534.9 C435.8 533.5 436.3 532 436 530.6 C434.6 530.9 432.5 530.6 431.8 529.6 C431.4 529 431.2 528.3 431.2 527.6Z" fill="#999"/>
<path d="M435.3 538.6 C435.925 541.47 437.8 542.9250000000001 437.8 544.3000000000001 A2.5 2.5 0 0 1 432.8 544.3000000000001 C432.8 542.9250000000001 434.675 541.47 435.3 538.6Z" fill="#9a9a9a"/>
<path d="M435.5 552.2 C438.2 552.2 439.4 556 439.4 558.2 C439.4 560.6 437.6 562.2 435.5 562.2 C433.4 562.2 431.6 560.6 431.6 558.2 C431.6 556 432.8 552.2 435.5 552.2Z" fill="#9a9a9a"/>
<use href="#heart" x="541" y="497"/>
<circle cx="545" cy="513.8" r="4.9" fill="url(#gPill)" stroke="#c4c4c4" stroke-width="0.8"/>
<path d="M542.3 516.5 L547.7 511.1" stroke="#a0a0a0" stroke-width="0.9"/>
<path d="M547.10 524.70 A4.8 4.8 0 1 0 547.70 532.47 A3.9 3.9 0 0 1 547.10 524.70Z" fill="url(#gMoon)"/>
</svg>
<div class="t" style="left:29.00px;top:0.15px;font-size:14px;color:#3e3e3e;transform:scaleX(0.6984);transform-origin:0 0;">°C</div>
<div class="t" style="left:25.10px;top:25.54px;font-size:10px;color:#3e3e3e;transform:scaleX(0.9300);transform-origin:0 0;">37.4</div>
<div class="t" style="left:25.10px;top:46.53px;font-size:10px;color:#3e3e3e;transform:scaleX(0.9300);transform-origin:0 0;">37.3</div>
<div class="t" style="left:25.10px;top:67.53px;font-size:10px;color:#3e3e3e;transform:scaleX(0.9300);transform-origin:0 0;">37.2</div>
<div class="t" style="left:25.10px;top:88.53px;font-size:10px;color:#3e3e3e;transform:scaleX(0.9300);transform-origin:0 0;">37.1</div>
<div class="t" style="left:25.10px;top:109.53px;font-size:10px;color:#3e3e3e;transform:scaleX(0.9300);transform-origin:0 0;">37</div>
<div class="t" style="left:25.10px;top:130.53px;font-size:10px;color:#3e3e3e;transform:scaleX(0.9300);transform-origin:0 0;">36.9</div>
<div class="t" style="left:25.10px;top:151.53px;font-size:10px;color:#3e3e3e;transform:scaleX(0.9300);transform-origin:0 0;">36.8</div>
<div class="t" style="left:25.10px;top:172.53px;font-size:10px;color:#3e3e3e;transform:scaleX(0.9300);transform-origin:0 0;">36.7</div>
<div class="t" style="left:25.10px;top:193.53px;font-size:10px;color:#3e3e3e;transform:scaleX(0.9300);transform-origin:0 0;">36.6</div>
<div class="t" style="left:25.10px;top:214.53px;font-size:10px;color:#3e3e3e;transform:scaleX(0.9300);transform-origin:0 0;">36.5</div>
<div class="t" style="left:25.10px;top:235.53px;font-size:10px;color:#3e3e3e;transform:scaleX(0.9300);transform-origin:0 0;">36.4</div>
<div class="t" style="left:25.10px;top:256.54px;font-size:10px;color:#3e3e3e;transform:scaleX(0.9300);transform-origin:0 0;">36.3</div>
<div class="t" style="left:25.10px;top:277.54px;font-size:10px;color:#3e3e3e;transform:scaleX(0.9300);transform-origin:0 0;">36.2</div>
<div class="t" style="left:25.10px;top:298.54px;font-size:10px;color:#3e3e3e;transform:scaleX(0.9300);transform-origin:0 0;">36.1</div>
<div class="t" style="left:55.00px;top:10.54px;font-size:10px;color:#3e3e3e;transform:scaleX(0.9308);transform-origin:0 0;">Средняя t° 1 фаза</div>
<div class="t" style="left:139.00px;top:9.69px;font-size:11px;color:#3e3e3e;transform:scaleX(0.9796);transform-origin:0 0;">36.4 °C</div>
<div class="t" style="left:363.00px;top:10.54px;font-size:10px;color:#3e3e3e;transform:scaleX(0.8992);transform-origin:0 0;">2 фаза</div>
<div class="t" style="left:397.00px;top:9.69px;font-size:11px;color:#3e3e3e;transform:scaleX(0.9796);transform-origin:0 0;">36.8 °C</div>
<div class="t" style="left:453.00px;top:10.54px;font-size:10px;color:#3e3e3e;transform:scaleX(0.9302);transform-origin:0 0;">Разница t°</div>
<div class="t" style="left:502.00px;top:9.69px;font-size:11px;color:#3e3e3e;transform:scaleX(0.9756);transform-origin:0 0;">0.4 °C</div>
<div class="t c" style="left:340.5px;top:35.37px;font-size:10.2px;color:#3e3e3e;letter-spacing:0.6px;transform:scaleX(0.8);">01</div>
<div class="t c" style="left:359.5px;top:35.37px;font-size:10.2px;color:#3e3e3e;letter-spacing:0.6px;transform:scaleX(0.8);">02</div>
<div class="t c" style="left:378.5px;top:35.37px;font-size:10.2px;color:#3e3e3e;letter-spacing:0.6px;transform:scaleX(0.8);">03</div>
<div class="t c" style="left:397.5px;top:35.37px;font-size:10.2px;color:#3e3e3e;letter-spacing:0.6px;transform:scaleX(0.8);">04</div>
<div class="t c" style="left:416.5px;top:35.37px;font-size:10.2px;color:#3e3e3e;letter-spacing:0.6px;transform:scaleX(0.8);">05</div>
<div class="t c" style="left:435.5px;top:35.37px;font-size:10.2px;color:#3e3e3e;letter-spacing:0.6px;transform:scaleX(0.8);">06</div>
<div class="t c" style="left:454.5px;top:35.37px;font-size:10.2px;color:#3e3e3e;letter-spacing:0.6px;transform:scaleX(0.8);">07</div>
<div class="t c" style="left:473.5px;top:35.37px;font-size:10.2px;color:#3e3e3e;letter-spacing:0.6px;transform:scaleX(0.8);">08</div>
<div class="t c" style="left:492.5px;top:35.37px;font-size:10.2px;color:#3e3e3e;letter-spacing:0.6px;transform:scaleX(0.8);">09</div>
<div class="t c" style="left:511.5px;top:35.37px;font-size:10.2px;color:#3e3e3e;letter-spacing:0.6px;transform:scaleX(0.8);">10</div>
<div class="t c" style="left:530.5px;top:35.37px;font-size:10.2px;color:#3e3e3e;letter-spacing:0.6px;transform:scaleX(0.8);">11</div>
<div class="t c" style="left:549.5px;top:35.37px;font-size:10.2px;color:#3e3e3e;letter-spacing:0.6px;transform:scaleX(0.8);">12</div>
<div class="t c" style="left:568.5px;top:35.37px;font-size:10.2px;color:#3e3e3e;letter-spacing:0.6px;transform:scaleX(0.8);">13</div>
<div class="t c" style="left:587.5px;top:35.37px;font-size:10.2px;color:#3e3e3e;letter-spacing:0.6px;transform:scaleX(0.8);">14</div>
<div class="t c" style="left:606.5px;top:35.37px;font-size:10.2px;color:#3e3e3e;letter-spacing:0.6px;transform:scaleX(0.8);">15</div>
<div class="t" style="left:337.2px;top:87.00px;font-size:11px;color:#505050;transform:rotate(-90deg) scaleX(0.8490);transform-origin:0 0;">ОВУЛЯЦИЯ</div>
<div class="t c" style="left:36.5px;top:308.37px;font-size:10.2px;color:#3e3e3e;letter-spacing:0.6px;transform:scaleX(0.8);">01</div>
<div class="t c" style="left:55.5px;top:308.37px;font-size:10.2px;color:#3e3e3e;letter-spacing:0.6px;transform:scaleX(0.8);">02</div>
<div class="t c" style="left:74.5px;top:308.37px;font-size:10.2px;color:#3e3e3e;letter-spacing:0.6px;transform:scaleX(0.8);">03</div>
<div class="t c" style="left:93.5px;top:308.37px;font-size:10.2px;color:#3e3e3e;letter-spacing:0.6px;transform:scaleX(0.8);">04</div>
<div class="t c" style="left:112.5px;top:308.37px;font-size:10.2px;color:#3e3e3e;letter-spacing:0.6px;transform:scaleX(0.8);">05</div>
<div class="t c" style="left:131.5px;top:308.37px;font-size:10.2px;color:#3e3e3e;letter-spacing:0.6px;transform:scaleX(0.8);">06</div>
<div class="t c" style="left:150.5px;top:308.37px;font-size:10.2px;color:#3e3e3e;letter-spacing:0.6px;transform:scaleX(0.8);">07</div>
<div class="t c" style="left:169.5px;top:308.37px;font-size:10.2px;color:#3e3e3e;letter-spacing:0.6px;transform:scaleX(0.8);">08</div>
<div class="t c" style="left:188.5px;top:308.37px;font-size:10.2px;color:#3e3e3e;letter-spacing:0.6px;transform:scaleX(0.8);">09</div>
<div class="t c" style="left:207.5px;top:308.37px;font-size:10.2px;color:#3e3e3e;letter-spacing:0.6px;transform:scaleX(0.8);">10</div>
<div class="t c" style="left:226.5px;top:308.37px;font-size:10.2px;color:#3e3e3e;letter-spacing:0.6px;transform:scaleX(0.8);">11</div>
<div class="t c" style="left:245.5px;top:308.37px;font-size:10.2px;color:#3e3e3e;letter-spacing:0.6px;transform:scaleX(0.8);">12</div>
<div class="t c" style="left:264.5px;top:308.37px;font-size:10.2px;color:#3e3e3e;letter-spacing:0.6px;transform:scaleX(0.8);">13</div>
<div class="t c" style="left:283.5px;top:308.37px;font-size:10.2px;color:#3e3e3e;letter-spacing:0.6px;transform:scaleX(0.8);">14</div>
<div class="t c" style="left:302.5px;top:308.37px;font-size:10.2px;color:#3e3e3e;letter-spacing:0.6px;transform:scaleX(0.8);">15</div>
<div class="t c" style="left:321.5px;top:308.37px;font-size:10.2px;color:#3e3e3e;letter-spacing:0.6px;transform:scaleX(0.8);">16</div>
<div class="t c" style="left:340.5px;top:308.37px;font-size:10.2px;color:#3e3e3e;letter-spacing:0.6px;transform:scaleX(0.8);">17</div>
<div class="t c" style="left:359.5px;top:308.37px;font-size:10.2px;color:#3e3e3e;letter-spacing:0.6px;transform:scaleX(0.8);">18</div>
<div class="t c" style="left:378.5px;top:308.37px;font-size:10.2px;color:#3e3e3e;letter-spacing:0.6px;transform:scaleX(0.8);">19</div>
<div class="t c" style="left:397.5px;top:308.37px;font-size:10.2px;color:#3e3e3e;letter-spacing:0.6px;transform:scaleX(0.8);">20</div>
<div class="t c" style="left:416.5px;top:308.37px;font-size:10.2px;color:#3e3e3e;letter-spacing:0.6px;transform:scaleX(0.8);">21</div>
<div class="t c" style="left:435.5px;top:308.37px;font-size:10.2px;color:#3e3e3e;letter-spacing:0.6px;transform:scaleX(0.8);">22</div>
<div class="t c" style="left:454.5px;top:308.37px;font-size:10.2px;color:#3e3e3e;letter-spacing:0.6px;transform:scaleX(0.8);">23</div>
<div class="t c" style="left:473.5px;top:308.37px;font-size:10.2px;color:#3e3e3e;letter-spacing:0.6px;transform:scaleX(0.8);">24</div>
<div class="t c" style="left:492.5px;top:308.37px;font-size:10.2px;color:#3e3e3e;letter-spacing:0.6px;transform:scaleX(0.8);">25</div>
<div class="t c" style="left:511.5px;top:308.37px;font-size:10.2px;color:#3e3e3e;letter-spacing:0.6px;transform:scaleX(0.8);">26</div>
<div class="t c" style="left:530.3px;top:306.84px;font-size:12px;color:#3e3e3e;letter-spacing:0px;transform:scaleX(0.88);">27</div>
<div class="t c" style="left:549.5px;top:308.37px;font-size:10.2px;color:#3e3e3e;letter-spacing:0.6px;transform:scaleX(0.8);">28</div>
<div class="t c" style="left:568.5px;top:308.37px;font-size:10.2px;color:#3e3e3e;letter-spacing:0.6px;transform:scaleX(0.8);">29</div>
<div class="t c" style="left:587.5px;top:308.37px;font-size:10.2px;color:#3e3e3e;letter-spacing:0.6px;transform:scaleX(0.8);">30</div>
<div class="t c" style="left:606.5px;top:308.37px;font-size:10.2px;color:#3e3e3e;letter-spacing:0.6px;transform:scaleX(0.8);">31</div>
<div class="t c" style="left:36.5px;top:433.37px;font-size:10.2px;color:#ea2c5c;letter-spacing:0.6px;transform:scaleX(0.8);">27</div>
<div class="t c" style="left:55.5px;top:433.37px;font-size:10.2px;color:#ea2c5c;letter-spacing:0.6px;transform:scaleX(0.8);">28</div>
<div class="t c" style="left:74.5px;top:433.37px;font-size:10.2px;color:#3e3e3e;letter-spacing:0.6px;transform:scaleX(0.8);">29</div>
<div class="t c" style="left:93.5px;top:433.37px;font-size:10.2px;color:#3e3e3e;letter-spacing:0.6px;transform:scaleX(0.8);">30</div>
<div class="t c" style="left:112.5px;top:433.37px;font-size:10.2px;color:#3e3e3e;letter-spacing:0.6px;transform:scaleX(0.8);">31</div>
<div class="t c" style="left:131.5px;top:433.37px;font-size:10.2px;color:#3e3e3e;letter-spacing:0.6px;transform:scaleX(0.8);">01</div>
<div class="t c" style="left:150.5px;top:433.37px;font-size:10.2px;color:#3e3e3e;letter-spacing:0.6px;transform:scaleX(0.8);">02</div>
<div class="t c" style="left:169.5px;top:433.37px;font-size:10.2px;color:#ea2c5c;letter-spacing:0.6px;transform:scaleX(0.8);">03</div>
<div class="t c" style="left:188.5px;top:433.37px;font-size:10.2px;color:#ea2c5c;letter-spacing:0.6px;transform:scaleX(0.8);">04</div>
<div class="t c" style="left:207.5px;top:433.37px;font-size:10.2px;color:#3e3e3e;letter-spacing:0.6px;transform:scaleX(0.8);">05</div>
<div class="t c" style="left:226.5px;top:433.37px;font-size:10.2px;color:#3e3e3e;letter-spacing:0.6px;transform:scaleX(0.8);">06</div>
<div class="t c" style="left:245.5px;top:433.37px;font-size:10.2px;color:#3e3e3e;letter-spacing:0.6px;transform:scaleX(0.8);">07</div>
<div class="t c" style="left:264.5px;top:433.37px;font-size:10.2px;color:#3e3e3e;letter-spacing:0.6px;transform:scaleX(0.8);">08</div>
<div class="t c" style="left:283.5px;top:433.37px;font-size:10.2px;color:#3e3e3e;letter-spacing:0.6px;transform:scaleX(0.8);">09</div>
<div class="t c" style="left:302.5px;top:433.37px;font-size:10.2px;color:#ea2c5c;letter-spacing:0.6px;transform:scaleX(0.8);">10</div>
<div class="t c" style="left:321.5px;top:433.37px;font-size:10.2px;color:#ea2c5c;letter-spacing:0.6px;transform:scaleX(0.8);">11</div>
<div class="t c" style="left:340.5px;top:433.37px;font-size:10.2px;color:#3e3e3e;letter-spacing:0.6px;transform:scaleX(0.8);">12</div>
<div class="t c" style="left:359.5px;top:433.37px;font-size:10.2px;color:#3e3e3e;letter-spacing:0.6px;transform:scaleX(0.8);">13</div>
<div class="t c" style="left:378.5px;top:433.37px;font-size:10.2px;color:#3e3e3e;letter-spacing:0.6px;transform:scaleX(0.8);">14</div>
<div class="t c" style="left:397.5px;top:433.37px;font-size:10.2px;color:#3e3e3e;letter-spacing:0.6px;transform:scaleX(0.8);">15</div>
<div class="t c" style="left:416.5px;top:433.37px;font-size:10.2px;color:#3e3e3e;letter-spacing:0.6px;transform:scaleX(0.8);">16</div>
<div class="t c" style="left:435.5px;top:433.37px;font-size:10.2px;color:#ea2c5c;letter-spacing:0.6px;transform:scaleX(0.8);">17</div>
<div class="t c" style="left:454.5px;top:433.37px;font-size:10.2px;color:#ea2c5c;letter-spacing:0.6px;transform:scaleX(0.8);">18</div>
<div class="t c" style="left:473.5px;top:433.37px;font-size:10.2px;color:#3e3e3e;letter-spacing:0.6px;transform:scaleX(0.8);">19</div>
<div class="t c" style="left:492.5px;top:433.37px;font-size:10.2px;color:#3e3e3e;letter-spacing:0.6px;transform:scaleX(0.8);">20</div>
<div class="t c" style="left:511.5px;top:433.37px;font-size:10.2px;color:#3e3e3e;letter-spacing:0.6px;transform:scaleX(0.8);">21</div>
<div class="t c" style="left:530.3px;top:429.84px;font-size:12px;color:#3e3e3e;letter-spacing:0px;transform:scaleX(0.88);">22</div>
<div class="t c" style="left:549.5px;top:433.37px;font-size:10.2px;color:#3e3e3e;letter-spacing:0.6px;transform:scaleX(0.8);">23</div>
<div class="t c" style="left:568.5px;top:433.37px;font-size:10.2px;color:#ea2c5c;letter-spacing:0.6px;transform:scaleX(0.8);">24</div>
<div class="t c" style="left:587.5px;top:433.37px;font-size:10.2px;color:#ea2c5c;letter-spacing:0.6px;transform:scaleX(0.8);">25</div>
<div class="t c" style="left:606.5px;top:433.37px;font-size:10.2px;color:#3e3e3e;letter-spacing:0.6px;transform:scaleX(0.8);">26</div>
<div class="t" style="left:32.00px;top:447.69px;font-size:11px;color:#505050;transform:scaleX(0.9600);transform-origin:0 0;">Июль</div>
<div class="t" style="left:147.00px;top:447.69px;font-size:11px;color:#505050;">Август</div>
<div class="t" style="left:52.00px;top:481.54px;font-size:10px;color:#333333;transform:scaleX(0.8745);transform-origin:0 0;-webkit-text-stroke:0.2px #333;">Менструация</div>
<div class="t" style="left:72.00px;top:495.54px;font-size:10px;color:#555555;transform:scaleX(0.8715);transform-origin:0 0;">менструация</div>
<div class="t" style="left:72.00px;top:509.54px;font-size:10px;color:#555555;transform:scaleX(0.8826);transform-origin:0 0;">небольшие выделения</div>
<div class="t" style="left:182.00px;top:481.54px;font-size:10px;color:#333333;transform:scaleX(0.8929);transform-origin:0 0;-webkit-text-stroke:0.2px #333;">Тест на овуляцию</div>
<div class="t" style="left:201.00px;top:495.54px;font-size:10px;color:#555555;transform:scaleX(0.8884);transform-origin:0 0;">положительный</div>
<div class="t" style="left:201.00px;top:509.54px;font-size:10px;color:#555555;transform:scaleX(0.8898);transform-origin:0 0;">отрицательный</div>
<div class="t" style="left:299.20px;top:481.54px;font-size:10px;color:#333333;transform:scaleX(0.8792);transform-origin:0 0;-webkit-text-stroke:0.2px #333;">Тест на беременность</div>
<div class="t" style="left:319.00px;top:495.54px;font-size:10px;color:#555555;transform:scaleX(0.8884);transform-origin:0 0;">положительный</div>
<div class="t" style="left:319.00px;top:509.54px;font-size:10px;color:#555555;transform:scaleX(0.8898);transform-origin:0 0;">отрицательный</div>
<div class="t" style="left:319.00px;top:523.53px;font-size:10px;color:#555555;transform:scaleX(0.8801);transform-origin:0 0;">слабоположительный</div>
<div class="t" style="left:423.00px;top:481.54px;font-size:10px;color:#333333;transform:scaleX(0.8859);transform-origin:0 0;-webkit-text-stroke:0.2px #333;">Цервикальная жидкость</div>
<div class="t" style="left:443.00px;top:495.54px;font-size:10px;color:#555555;transform:scaleX(0.8800);transform-origin:0 0;">сухо</div>
<div class="t" style="left:443.00px;top:509.54px;font-size:10px;color:#555555;transform:scaleX(0.8800);transform-origin:0 0;">клейкая</div>
<div class="t" style="left:443.00px;top:523.53px;font-size:10px;color:#555555;transform:scaleX(0.8800);transform-origin:0 0;">кремообразная</div>
<div class="t" style="left:443.00px;top:537.53px;font-size:10px;color:#555555;transform:scaleX(0.8800);transform-origin:0 0;">водянистая</div>
<div class="t" style="left:443.00px;top:551.53px;font-size:10px;color:#555555;transform:scaleX(0.8800);transform-origin:0 0;">яичный белок</div>
<div class="t" style="left:555.00px;top:495.54px;font-size:10px;color:#555555;transform:scaleX(0.9036);transform-origin:0 0;">половой акт</div>
<div class="t" style="left:555.00px;top:509.54px;font-size:10px;color:#555555;transform:scaleX(0.8786);transform-origin:0 0;">прием лекарств</div>
<div class="t" style="left:555.00px;top:523.53px;font-size:10px;color:#555555;transform:scaleX(0.8841);transform-origin:0 0;">лунный календарь</div>
</body></html>
